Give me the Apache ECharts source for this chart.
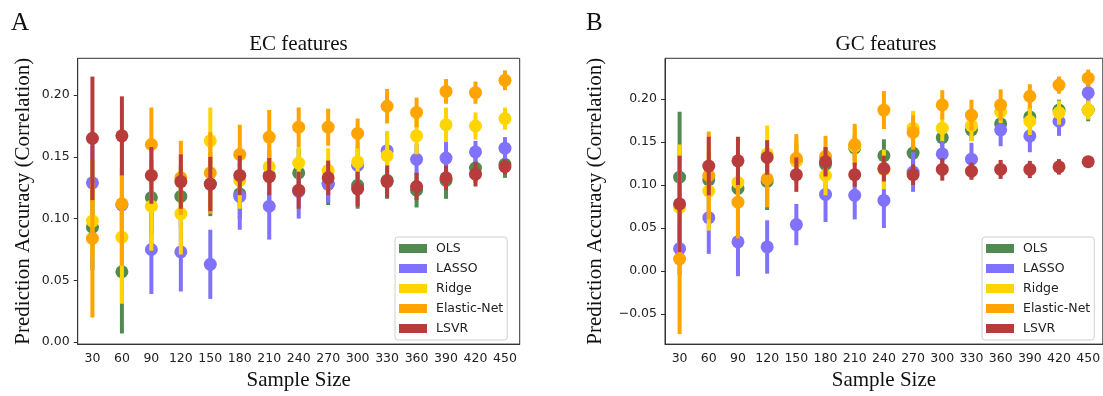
<!DOCTYPE html>
<html>
<head>
<meta charset="utf-8">
<script src="https://cdn.jsdelivr.net/npm/echarts@6/dist/echarts.min.js"></script>
<style>html,body{margin:0;padding:0;background:#fff}#c{width:1103px;height:396px}</style>
</head>
<body>
<div id="c"></div>
<script>
const sampleSizes = ['30','60','90','120','150','180','210','240','270','300','330','360','390','420','450'];
const methods = ['OLS','LASSO','Ridge','Elastic-Net','LSVR'];
const yTicksEC = [0, 0.05, 0.10, 0.15, 0.20];
const yTicksGC = [-0.05, 0, 0.05, 0.10, 0.15, 0.20];

// EC features (panel A): means and error half-widths
const ecOLS      = [0.093, 0.057, 0.117, 0.118, 0.128, 0.120, 0.135, 0.137, 0.128, 0.127, 0.131, 0.123, 0.131, 0.141, 0.144];
const ecOLSErr   = [0.035, 0.050, 0.030, 0.025, 0.026, 0.020, 0.020, 0.020, 0.017, 0.019, 0.015, 0.014, 0.015, 0.012, 0.011];
const ecLASSO    = [0.129, 0.111, 0.075, 0.073, 0.063, 0.118, 0.110, 0.122, 0.128, 0.143, 0.155, 0.148, 0.149, 0.154, 0.157];
const ecLASSOErr = [0.030, 0.030, 0.036, 0.032, 0.028, 0.027, 0.027, 0.022, 0.015, 0.015, 0.015, 0.012, 0.013, 0.009, 0.009];
const ecRidge    = [0.098, 0.085, 0.110, 0.104, 0.163, 0.131, 0.142, 0.145, 0.139, 0.146, 0.151, 0.167, 0.176, 0.175, 0.181];
const ecRidgeErr = [0.030, 0.054, 0.036, 0.033, 0.027, 0.023, 0.020, 0.013, 0.018, 0.015, 0.020, 0.015, 0.014, 0.011, 0.009];
const ecEN       = [0.084, 0.112, 0.160, 0.133, 0.137, 0.152, 0.166, 0.174, 0.174, 0.169, 0.191, 0.186, 0.203, 0.202, 0.212];
const ecENErr    = [0.064, 0.050, 0.030, 0.030, 0.033, 0.024, 0.022, 0.016, 0.015, 0.012, 0.014, 0.012, 0.010, 0.009, 0.008];
const ecLSVR     = [0.165, 0.167, 0.135, 0.130, 0.128, 0.135, 0.134, 0.123, 0.133, 0.124, 0.130, 0.126, 0.133, 0.136, 0.142];
const ecLSVRErr  = [0.050, 0.032, 0.023, 0.022, 0.022, 0.016, 0.015, 0.015, 0.014, 0.014, 0.013, 0.011, 0.010, 0.010, 0.006];

// GC features (panel B)
const gcOLS      = [0.109, 0.106, 0.096, 0.104, 0.128, 0.124, 0.143, 0.134, 0.137, 0.155, 0.164, 0.171, 0.179, 0.187, 0.187];
const gcOLSErr   = [0.076, 0.020, 0.020, 0.033, 0.020, 0.018, 0.015, 0.019, 0.015, 0.015, 0.013, 0.012, 0.012, 0.012, 0.013];
const gcLASSO    = [0.026, 0.062, 0.034, 0.028, 0.054, 0.089, 0.088, 0.082, 0.115, 0.136, 0.130, 0.164, 0.157, 0.174, 0.207];
const gcLASSOErr = [0.030, 0.042, 0.040, 0.031, 0.024, 0.032, 0.028, 0.032, 0.023, 0.016, 0.019, 0.019, 0.019, 0.017, 0.012];
const gcRidge    = [0.074, 0.093, 0.103, 0.136, 0.128, 0.111, 0.145, 0.118, 0.166, 0.166, 0.169, 0.185, 0.174, 0.184, 0.187];
const gcRidgeErr = [0.073, 0.046, 0.030, 0.033, 0.025, 0.023, 0.022, 0.023, 0.020, 0.015, 0.018, 0.013, 0.016, 0.014, 0.011];
const gcEN       = [0.014, 0.111, 0.080, 0.107, 0.131, 0.133, 0.147, 0.187, 0.161, 0.193, 0.181, 0.193, 0.203, 0.216, 0.224];
const gcENErr    = [0.087, 0.051, 0.042, 0.033, 0.028, 0.024, 0.024, 0.022, 0.020, 0.017, 0.018, 0.018, 0.014, 0.010, 0.010];
const gcLSVR     = [0.078, 0.122, 0.128, 0.132, 0.112, 0.127, 0.112, 0.119, 0.112, 0.118, 0.116, 0.118, 0.118, 0.121, 0.127];
const gcLSVRErr  = [0.056, 0.034, 0.028, 0.020, 0.020, 0.017, 0.014, 0.015, 0.012, 0.013, 0.010, 0.011, 0.010, 0.009, 0.005];

const colors = { 'OLS': '#508a50', 'LASSO': '#8072fc', 'Ridge': '#ffd500', 'Elastic-Net': '#ffa400', 'LSVR': '#b83c3c' };

const panels = [
  { means: [ecOLS, ecLASSO, ecRidge, ecEN, ecLSVR], errs: [ecOLSErr, ecLASSOErr, ecRidgeErr, ecENErr, ecLSVRErr] },
  { means: [gcOLS, gcLASSO, gcRidge, gcEN, gcLSVR], errs: [gcOLSErr, gcLASSOErr, gcRidgeErr, gcENErr, gcLSVRErr] }
];

const serif = 'Liberation Serif';
const sans = 'DejaVu Sans';
const fmt = v => (v < 0 ? '\u2212' : '') + Math.abs(v).toFixed(2);

const series = [];
panels.forEach((p, pi) => {
  methods.forEach((m, k) => {
    const col = colors[m];
    series.push({
      type: 'custom', name: m, xAxisIndex: pi, yAxisIndex: pi, z: 10 + 2 * k,
      silent: true, animation: false,
      encode: { x: 0, y: 1 },
      data: p.means[k].map((v, i) => [i, v, p.errs[k][i]]),
      renderItem: (params, api) => {
        const x = api.value(0), mu = api.value(1), e = api.value(2);
        const hi = api.coord([x, mu + e]);
        const lo = api.coord([x, mu - e]);
        return { type: 'line', shape: { x1: hi[0], y1: hi[1], x2: lo[0], y2: lo[1] },
                 style: { stroke: col, lineWidth: 4 } };
      },
      itemStyle: { color: col }
    });
    series.push({
      type: 'scatter', name: m, xAxisIndex: pi, yAxisIndex: pi, z: 11 + 2 * k,
      symbol: 'circle', symbolSize: 13, silent: true, animation: false,
      itemStyle: { color: col, opacity: 1 },
      data: p.means[k]
    });
  });
});

const legendData = methods.map(m => ({ name: m, itemStyle: { color: colors[m] } }));
const legendBase = {
  orient: 'vertical', top: 237, icon: 'rect', itemWidth: 28, itemHeight: 9, itemGap: 7,
  backgroundColor: '#fff', borderColor: '#d0d0d0', borderWidth: 1, borderRadius: 3,
  padding: [5, 4, 5, 4], z: 100, selectedMode: false,
  textStyle: { fontFamily: sans, fontSize: 12.5, color: '#222', padding: [0, 0, 0, 4] },
  data: legendData
};

function xAx(gi) {
  return {
    type: 'category', gridIndex: gi, data: sampleSizes, boundaryGap: true,
    name: 'Sample Size', nameLocation: 'middle', nameGap: 22,
    nameTextStyle: { fontFamily: serif, fontSize: 21, color: '#111' },
    axisLine: { onZero: false, lineStyle: { color: '#333', width: 1 } },
    axisTick: { alignWithLabel: true, length: 4, lineStyle: { color: '#333' } },
    axisLabel: { fontFamily: sans, fontSize: 12.5, color: '#222', margin: 8, interval: 0 },
    splitLine: { show: false }
  };
}
function yAx(gi, mn, mx, ticks, gap) {
  return {
    type: 'value', gridIndex: gi, min: mn, max: mx,
    name: 'Prediction Accuracy (Correlation)', nameLocation: 'middle', nameGap: gap, nameRotate: 90,
    nameTextStyle: { fontFamily: serif, fontSize: 21, color: '#111' },
    axisLine: { show: true, onZero: false, lineStyle: { color: '#333', width: 1 } },
    axisTick: { show: true, length: 4, customValues: ticks, lineStyle: { color: '#333' } },
    axisLabel: { fontFamily: sans, fontSize: 12.5, color: '#222', margin: 8, customValues: ticks, formatter: fmt },
    splitLine: { show: false }
  };
}

const chart = echarts.init(document.getElementById('c'), null, { renderer: 'canvas' });
chart.setOption({
  animation: false,
  backgroundColor: '#fff',
  title: [
    { text: 'A', left: 11, top: 11, padding: 0, textStyle: { fontFamily: serif, fontSize: 25, fontWeight: 'normal', color: '#111' } },
    { text: 'B', left: 586, top: 11, padding: 0, textStyle: { fontFamily: serif, fontSize: 25, fontWeight: 'normal', color: '#111' } },
    { text: 'EC features', left: 298.5, textAlign: 'center', top: 34, padding: 0, textStyle: { fontFamily: serif, fontSize: 21, fontWeight: 'normal', color: '#111' } },
    { text: 'GC features', left: 886, textAlign: 'center', top: 34, padding: 0, textStyle: { fontFamily: serif, fontSize: 21, fontWeight: 'normal', color: '#111' } }
  ],
  legend: [
    Object.assign({}, legendBase, { left: 395 }),
    Object.assign({}, legendBase, { left: 982 })
  ],
  grid: [
    { left: 77.7, top: 58.3, width: 442, height: 287.4, show: true, borderColor: '#333', borderWidth: 1, backgroundColor: 'transparent' },
    { left: 665, top: 58.3, width: 442, height: 287.4, show: true, borderColor: '#333', borderWidth: 1, backgroundColor: 'transparent' }
  ],
  xAxis: [xAx(0), xAx(1)],
  yAxis: [yAx(0, -0.0016, 0.2298, yTicksEC, 44), yAx(1, -0.0848, 0.2471, yTicksGC, 59)],
  series: series
});
</script>
</body>
</html>
